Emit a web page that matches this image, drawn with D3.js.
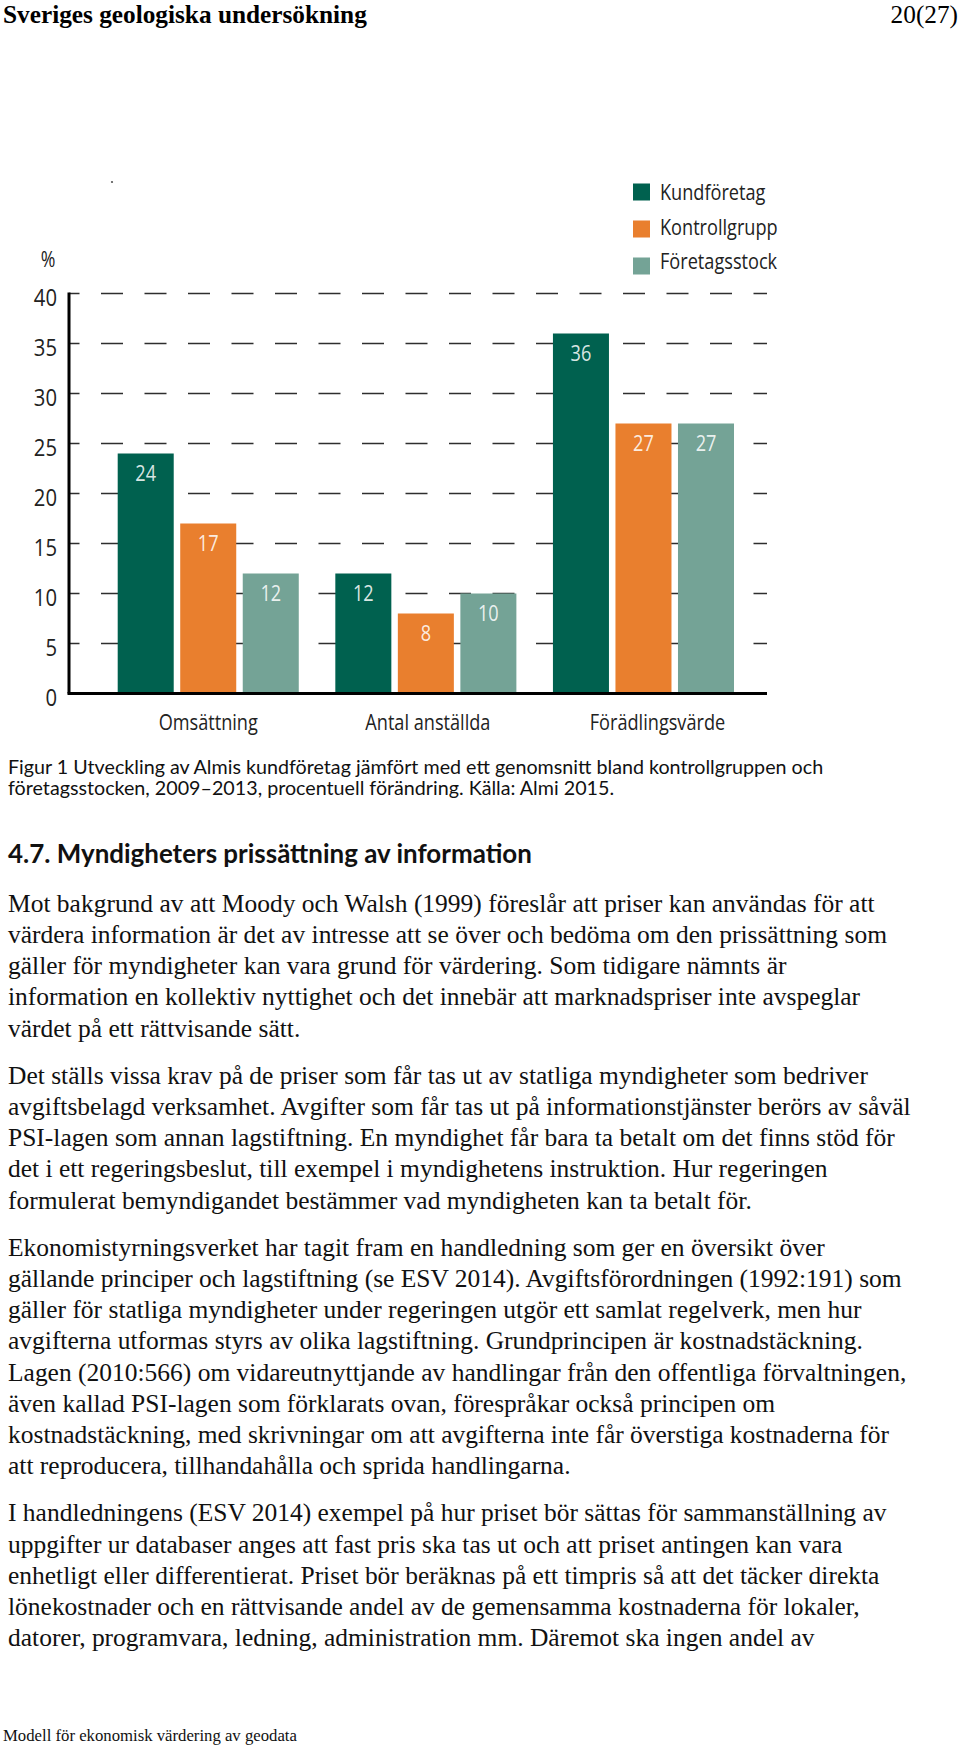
<!DOCTYPE html>
<html><head><meta charset="utf-8">
<script src="https://cdn.jsdelivr.net/npm/d3@7"></script>
<style>body{margin:0;background:#fff}svg{display:block}</style>
</head><body>
<svg id="c" width="960" height="1747"></svg>
<script>
// ---------- data ----------
const categories = ["Omsättning", "Antal anställda", "Förädlingsvärde"];
const series = ["Kundföretag", "Kontrollgrupp", "Företagsstock"];
const kundforetag = [24, 12, 36];
const kontrollgrupp = [17, 8, 27];
const foretagsstock = [12, 10, 27];
const yTicks = [0, 5, 10, 15, 20, 25, 30, 35, 40];
const yUnit = "%";

const headerLeft = "Sveriges geologiska undersökning";
const headerRight = "20(27)";
const captionLines = [
  "Figur 1 Utveckling av Almis kundföretag jämfört med ett genomsnitt bland kontrollgruppen och",
  "företagsstocken, 2009–2013, procentuell förändring. Källa: Almi 2015."
];
const heading = "4.7. Myndigheters prissättning av information";
const paragraphs = [
  ["Mot bakgrund av att Moody och Walsh (1999) föreslår att priser kan användas för att",
   "värdera information är det av intresse att se över och bedöma om den prissättning som",
   "gäller för myndigheter kan vara grund för värdering. Som tidigare nämnts är",
   "information en kollektiv nyttighet och det innebär att marknadspriser inte avspeglar",
   "värdet på ett rättvisande sätt."],
  ["Det ställs vissa krav på de priser som får tas ut av statliga myndigheter som bedriver",
   "avgiftsbelagd verksamhet. Avgifter som får tas ut på informationstjänster berörs av såväl",
   "PSI-lagen som annan lagstiftning. En myndighet får bara ta betalt om det finns stöd för",
   "det i ett regeringsbeslut, till exempel i myndighetens instruktion. Hur regeringen",
   "formulerat bemyndigandet bestämmer vad myndigheten kan ta betalt för."],
  ["Ekonomistyrningsverket har tagit fram en handledning som ger en översikt över",
   "gällande principer och lagstiftning (se ESV 2014). Avgiftsförordningen (1992:191) som",
   "gäller för statliga myndigheter under regeringen utgör ett samlat regelverk, men hur",
   "avgifterna utformas styrs av olika lagstiftning. Grundprincipen är kostnadstäckning.",
   "Lagen (2010:566) om vidareutnyttjande av handlingar från den offentliga förvaltningen,",
   "även kallad PSI-lagen som förklarats ovan, förespråkar också principen om",
   "kostnadstäckning, med skrivningar om att avgifterna inte får överstiga kostnaderna för",
   "att reproducera, tillhandahålla och sprida handlingarna."],
  ["I handledningens (ESV 2014) exempel på hur priset bör sättas för sammanställning av",
   "uppgifter ur databaser anges att fast pris ska tas ut och att priset antingen kan vara",
   "enhetligt eller differentierat. Priset bör beräknas på ett timpris så att det täcker direkta",
   "lönekostnader och en rättvisande andel av de gemensamma kostnaderna för lokaler,",
   "datorer, programvara, ledning, administration mm. Däremot ska ingen andel av"]
];
const footer = "Modell för ekonomisk värdering av geodata";

// ---------- styles ----------
const colors = ["#00614f", "#e97f2e", "#74a396"];
const chartFont = "'Open Sans', 'Noto Sans', sans-serif";
const serifFont = "'Liberation Serif', 'DejaVu Serif', serif";
const captionFont = "Lato, 'Open Sans', sans-serif";

const svg = d3.select("#c");
const values = [kundforetag, kontrollgrupp, foretagsstock];

function measure(str, font, size, weight) {
  const t = svg.append("text").text(str)
    .style("font-family", font).style("font-size", size + "px").style("font-weight", weight || 400);
  const w = t.node().getComputedTextLength();
  t.remove();
  return w;
}
function fitSize(str, font, weight, target) {
  return 20 * target / measure(str, font, 20, weight);
}

// horizontal compression for chart text (condensed look)
const kx = 97 / measure(categories[0], chartFont, 21, 400);

function ctext(g, str, x, yy, size, anchor, fill) {
  return g.append("text")
    .attr("transform", `translate(${x},${yy}) scale(${kx},1)`)
    .attr("text-anchor", anchor)
    .style("font-family", chartFont)
    .style("font-size", size + "px")
    .attr("fill", fill)
    .text(str);
}

// ---------- header ----------
const hSize = fitSize(headerLeft, serifFont, 700, 364);
svg.append("text").attr("x", 3).attr("y", 23).text(headerLeft)
  .style("font-family", serifFont).style("font-weight", 700).style("font-size", hSize + "px").attr("fill", "#000");
svg.append("text").attr("x", 958).attr("y", 23).attr("text-anchor", "end").text(headerRight)
  .style("font-family", serifFont).style("font-size", hSize + "px").attr("fill", "#000");

// ---------- chart ----------
const y = d3.scaleLinear().domain([0, 40]).range([693.5, 293.5]);
const x0 = d3.scaleBand().domain(categories).range([117.7, 734]).paddingInner(0.168);
const x1 = d3.scaleBand().domain(series).range([0, x0.bandwidth()]).paddingInner(0.104);
const xLeft = 69, xRight = 767;

const chart = svg.append("g");

// stray dot
chart.append("circle").attr("cx", 112).attr("cy", 182).attr("r", 1.1).attr("fill", "#555");

// dashed gridlines (drawn behind bars)
chart.append("g").selectAll("line").data(yTicks.filter(d => d > 0)).join("line")
  .attr("x1", xLeft).attr("x2", xRight)
  .attr("y1", d => y(d)).attr("y2", d => y(d))
  .attr("stroke", "#2e2e2e").attr("stroke-width", 1.5)
  .attr("stroke-dasharray", "22 21.5").attr("stroke-dashoffset", 11.5);

// bars
const groups = chart.append("g").selectAll("g").data(categories).join("g")
  .attr("transform", d => `translate(${x0(d)},0)`);
groups.each(function (cat, ci) {
  const g = d3.select(this);
  series.forEach((s, si) => {
    const v = values[si][ci];
    g.append("rect")
      .attr("x", x1(s)).attr("width", x1.bandwidth())
      .attr("y", y(v)).attr("height", y(0) - y(v))
      .attr("fill", colors[si]);
    ctext(g, String(v), x1(s) + x1.bandwidth() / 2, y(v) + 27, 21.5, "middle", "rgba(255,255,255,0.86)");
  });
});

// axes
chart.append("line").attr("x1", xLeft).attr("x2", xLeft).attr("y1", y(40) - 1).attr("y2", y(0))
  .attr("stroke", "#000").attr("stroke-width", 3);
chart.append("line").attr("x1", xLeft - 1.5).attr("x2", xRight).attr("y1", y(0)).attr("y2", y(0))
  .attr("stroke", "#000").attr("stroke-width", 3);

// y tick labels
yTicks.forEach(t => ctext(chart, String(t), 57, y(t) + 12.5, 24, "end", "#222"));
ctext(chart, yUnit, 48, 267, 21, "middle", "#222");

// category labels
const catShift = [0, 2, 14];
categories.forEach((c, i) => ctext(chart, c, x0(c) + x0.bandwidth() / 2 + catShift[i], 730, 21.5, "middle", "#222"));

// legend
const legend = chart.append("g");
series.forEach((s, i) => {
  legend.append("rect").attr("x", 633).attr("y", 183.5 + 37 * i).attr("width", 17).attr("height", 17).attr("fill", colors[i]);
  ctext(legend, s, 660, 200 + 34.5 * i, 21.5, "start", "#222");
});

// ---------- caption ----------
const capSize = fitSize(captionLines[0], captionFont, 400, 816);
captionLines.forEach((l, i) => svg.append("text").attr("x", 8).attr("y", 774 + 20.6 * i).text(l)
  .style("font-family", captionFont).style("font-size", capSize + "px").attr("fill", "#111"));

// ---------- heading ----------
const headSize = fitSize(heading, captionFont, 700, 524);
svg.append("text").attr("x", 8).attr("y", 863.3).text(heading)
  .style("font-family", captionFont).style("font-weight", 700).style("font-size", headSize + "px").attr("fill", "#111");

// ---------- body ----------
const bodySize = fitSize(paragraphs[0][0], serifFont, 400, 867);
let by = 911.7;
paragraphs.forEach((p, pi) => {
  if (pi > 0) by += 16;
  p.forEach(line => {
    svg.append("text").attr("x", 8).attr("y", by).text(line)
      .style("font-family", serifFont).style("font-size", bodySize + "px").attr("fill", "#111");
    by += 31.2;
  });
});

// ---------- footer ----------
const fSize = fitSize(footer, serifFont, 400, 294);
svg.append("text").attr("x", 3).attr("y", 1740.7).text(footer)
  .style("font-family", serifFont).style("font-size", fSize + "px").attr("fill", "#111");
</script>
</body></html>
